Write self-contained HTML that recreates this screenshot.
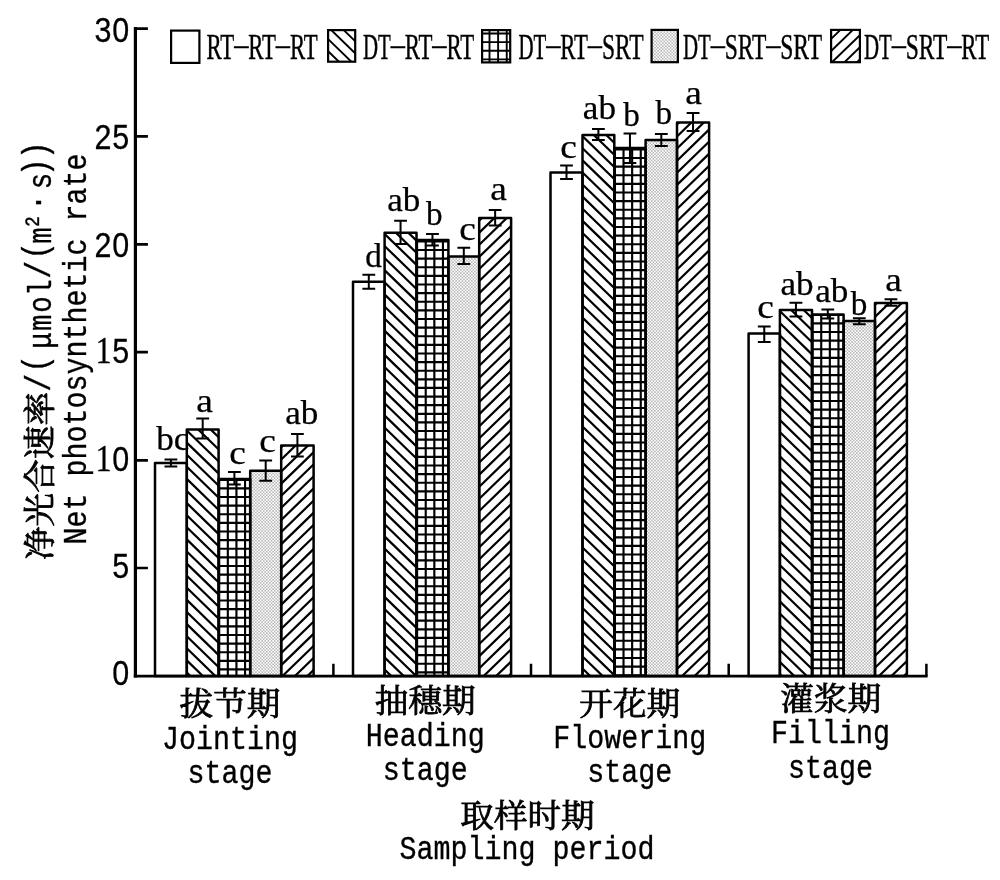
<!DOCTYPE html>
<html lang="zh"><head><meta charset="utf-8"><title>Net photosynthetic rate</title>
<style>html,body{margin:0;padding:0;background:#fff;}svg{display:block;}.m{font-family:'Liberation Mono', 'Noto Serif CJK SC', monospace;}.s{font-family:'Liberation Sans', 'Noto Sans CJK SC', sans-serif;}.c{font-family:'Liberation Serif', 'Noto Serif CJK SC', serif;}.k{stroke:#000;fill:none;}</style>
</head><body>
<svg width="1000" height="880" viewBox="0 0 1000 880">
<defs>
<pattern id="dt" patternUnits="userSpaceOnUse" width="3.13" height="3.13"><rect width="3.13" height="3.13" fill="#fff"/><circle cx="0.782" cy="0.782" r="0.72" fill="#9a9a9a"/><circle cx="2.348" cy="2.348" r="0.72" fill="#9a9a9a"/></pattern>
<clipPath id="c1"><rect x="186.8" y="429.4" width="31.8" height="246.7"/></clipPath>
<clipPath id="c2"><rect x="218.6" y="479" width="31.6" height="197.1"/></clipPath>
<clipPath id="c3"><rect x="281.2" y="445.6" width="32.4" height="230.5"/></clipPath>
<clipPath id="c4"><rect x="384.6" y="232.8" width="31.9" height="443.3"/></clipPath>
<clipPath id="c5"><rect x="416.5" y="240" width="31.9" height="436.1"/></clipPath>
<clipPath id="c6"><rect x="479.2" y="218.1" width="31.9" height="458"/></clipPath>
<clipPath id="c7"><rect x="582.5" y="135" width="31.8" height="541.1"/></clipPath>
<clipPath id="c8"><rect x="614.3" y="148" width="31.3" height="528.1"/></clipPath>
<clipPath id="c9"><rect x="677" y="122.6" width="32.1" height="553.5"/></clipPath>
<clipPath id="c10"><rect x="779.9" y="310" width="32.1" height="366.1"/></clipPath>
<clipPath id="c11"><rect x="812" y="314.4" width="31.6" height="361.7"/></clipPath>
<clipPath id="c12"><rect x="875" y="303" width="31.9" height="373.1"/></clipPath>
<clipPath id="c13"><rect x="328.1" y="30.1" width="27.1" height="31.6"/></clipPath>
<clipPath id="c14"><rect x="482.1" y="30.1" width="28.1" height="32.3"/></clipPath>
<clipPath id="c15"><rect x="831.1" y="29.9" width="28.8" height="32.3"/></clipPath>
</defs>
<rect width="1000" height="880" fill="#fff"/>
<g id="group1">
<path class="k" clip-path="url(#c1)" stroke-width="2.2" d="M183.8,379.22L221.6,415.89M183.8,391.32L221.6,427.99M183.8,403.42L221.6,440.09M183.8,415.52L221.6,452.19M183.8,427.62L221.6,464.29M183.8,439.72L221.6,476.39M183.8,451.82L221.6,488.49M183.8,463.92L221.6,500.59M183.8,476.02L221.6,512.69M183.8,488.12L221.6,524.79M183.8,500.22L221.6,536.89M183.8,512.32L221.6,548.99M183.8,524.42L221.6,561.09M183.8,536.52L221.6,573.19M183.8,548.62L221.6,585.29M183.8,560.72L221.6,597.39M183.8,572.82L221.6,609.49M183.8,584.92L221.6,621.59M183.8,597.02L221.6,633.69M183.8,609.12L221.6,645.79M183.8,621.22L221.6,657.89M183.8,633.32L221.6,669.99M183.8,645.42L221.6,682.09M183.8,657.52L221.6,694.19M183.8,669.62L221.6,706.29M183.8,681.72L221.6,718.39"/>
<path class="k" clip-path="url(#c2)" stroke-width="2.15" d="M210.58,477V678.1M219.2,477V678.1M227.82,477V678.1M236.44,477V678.1M245.06,477V678.1M253.68,477V678.1M216.6,471.18H252.2M216.6,479.8H252.2M216.6,488.42H252.2M216.6,497.04H252.2M216.6,505.66H252.2M216.6,514.28H252.2M216.6,522.9H252.2M216.6,531.52H252.2M216.6,540.14H252.2M216.6,548.76H252.2M216.6,557.38H252.2M216.6,566H252.2M216.6,574.62H252.2M216.6,583.24H252.2M216.6,591.86H252.2M216.6,600.48H252.2M216.6,609.1H252.2M216.6,617.72H252.2M216.6,626.34H252.2M216.6,634.96H252.2M216.6,643.58H252.2M216.6,652.2H252.2M216.6,660.82H252.2M216.6,669.44H252.2M216.6,678.06H252.2"/>
<rect x="250.2" y="470.7" width="31" height="205.4" fill="url(#dt)"/>
<path class="k" clip-path="url(#c3)" stroke-width="2.2" d="M278.2,438.18L316.6,400.93M278.2,450.28L316.6,413.03M278.2,462.38L316.6,425.13M278.2,474.48L316.6,437.23M278.2,486.58L316.6,449.33M278.2,498.68L316.6,461.43M278.2,510.78L316.6,473.53M278.2,522.88L316.6,485.63M278.2,534.98L316.6,497.73M278.2,547.08L316.6,509.83M278.2,559.18L316.6,521.93M278.2,571.28L316.6,534.03M278.2,583.38L316.6,546.13M278.2,595.48L316.6,558.23M278.2,607.58L316.6,570.33M278.2,619.68L316.6,582.43M278.2,631.78L316.6,594.53M278.2,643.88L316.6,606.63M278.2,655.98L316.6,618.73M278.2,668.08L316.6,630.83M278.2,680.18L316.6,642.93M278.2,692.28L316.6,655.03M278.2,704.38L316.6,667.13M278.2,716.48L316.6,679.23"/>
<rect class="k" x="155" y="463" width="31.8" height="213.1" stroke-width="2.5" stroke-linejoin="round"/>
<rect class="k" x="186.8" y="429.4" width="31.8" height="246.7" stroke-width="2.5" stroke-linejoin="round"/>
<rect class="k" x="218.6" y="479" width="31.6" height="197.1" stroke-width="2.5" stroke-linejoin="round"/>
<rect class="k" x="250.2" y="470.7" width="31" height="205.4" stroke-width="2.5" stroke-linejoin="round"/>
<rect class="k" x="281.2" y="445.6" width="32.4" height="230.5" stroke-width="2.5" stroke-linejoin="round"/>
<path class="k" stroke-width="2" d="M164.5,459.6H177.3M164.5,466.4H177.3M170.9,459.6V466.4M196.3,418.4H209.1M196.3,438.6H209.1M202.7,418.4V438.6M228,472H240.8M228,484.4H240.8M234.4,472V484.4M259.3,460.6H272.1M259.3,480.8H272.1M265.7,460.6V480.8M291,434H303.8M291,456.6H303.8M297.4,434V456.6"/>
</g>
<g id="group2">
<path class="k" clip-path="url(#c4)" stroke-width="2.2" d="M381.6,182.62L419.5,219.38M381.6,194.72L419.5,231.48M381.6,206.82L419.5,243.58M381.6,218.92L419.5,255.68M381.6,231.02L419.5,267.78M381.6,243.12L419.5,279.88M381.6,255.22L419.5,291.98M381.6,267.32L419.5,304.08M381.6,279.42L419.5,316.18M381.6,291.52L419.5,328.28M381.6,303.62L419.5,340.38M381.6,315.72L419.5,352.48M381.6,327.82L419.5,364.58M381.6,339.92L419.5,376.68M381.6,352.02L419.5,388.78M381.6,364.12L419.5,400.88M381.6,376.22L419.5,412.98M381.6,388.32L419.5,425.08M381.6,400.42L419.5,437.18M381.6,412.52L419.5,449.28M381.6,424.62L419.5,461.38M381.6,436.72L419.5,473.48M381.6,448.82L419.5,485.58M381.6,460.92L419.5,497.68M381.6,473.02L419.5,509.78M381.6,485.12L419.5,521.88M381.6,497.22L419.5,533.98M381.6,509.32L419.5,546.08M381.6,521.42L419.5,558.18M381.6,533.52L419.5,570.28M381.6,545.62L419.5,582.38M381.6,557.72L419.5,594.48M381.6,569.82L419.5,606.58M381.6,581.92L419.5,618.68M381.6,594.02L419.5,630.78M381.6,606.12L419.5,642.88M381.6,618.22L419.5,654.98M381.6,630.32L419.5,667.08M381.6,642.42L419.5,679.18M381.6,654.52L419.5,691.28M381.6,666.62L419.5,703.38M381.6,678.72L419.5,715.48M381.6,690.82L419.5,727.58"/>
<path class="k" clip-path="url(#c5)" stroke-width="2.15" d="M408.48,238V678.1M417.1,238V678.1M425.72,238V678.1M434.34,238V678.1M442.96,238V678.1M451.58,238V678.1M414.5,232.78H450.4M414.5,241.4H450.4M414.5,250.02H450.4M414.5,258.64H450.4M414.5,267.26H450.4M414.5,275.88H450.4M414.5,284.5H450.4M414.5,293.12H450.4M414.5,301.74H450.4M414.5,310.36H450.4M414.5,318.98H450.4M414.5,327.6H450.4M414.5,336.22H450.4M414.5,344.84H450.4M414.5,353.46H450.4M414.5,362.08H450.4M414.5,370.7H450.4M414.5,379.32H450.4M414.5,387.94H450.4M414.5,396.56H450.4M414.5,405.18H450.4M414.5,413.8H450.4M414.5,422.42H450.4M414.5,431.04H450.4M414.5,439.66H450.4M414.5,448.28H450.4M414.5,456.9H450.4M414.5,465.52H450.4M414.5,474.14H450.4M414.5,482.76H450.4M414.5,491.38H450.4M414.5,500H450.4M414.5,508.62H450.4M414.5,517.24H450.4M414.5,525.86H450.4M414.5,534.48H450.4M414.5,543.1H450.4M414.5,551.72H450.4M414.5,560.34H450.4M414.5,568.96H450.4M414.5,577.58H450.4M414.5,586.2H450.4M414.5,594.82H450.4M414.5,603.44H450.4M414.5,612.06H450.4M414.5,620.68H450.4M414.5,629.3H450.4M414.5,637.92H450.4M414.5,646.54H450.4M414.5,655.16H450.4M414.5,663.78H450.4M414.5,672.4H450.4M414.5,681.02H450.4"/>
<rect x="448.4" y="256.5" width="30.8" height="419.6" fill="url(#dt)"/>
<path class="k" clip-path="url(#c6)" stroke-width="2.2" d="M476.2,211.38L514.1,174.62M476.2,223.48L514.1,186.72M476.2,235.58L514.1,198.82M476.2,247.68L514.1,210.92M476.2,259.78L514.1,223.02M476.2,271.88L514.1,235.12M476.2,283.98L514.1,247.22M476.2,296.08L514.1,259.32M476.2,308.18L514.1,271.42M476.2,320.28L514.1,283.52M476.2,332.38L514.1,295.62M476.2,344.48L514.1,307.72M476.2,356.58L514.1,319.82M476.2,368.68L514.1,331.92M476.2,380.78L514.1,344.02M476.2,392.88L514.1,356.12M476.2,404.98L514.1,368.22M476.2,417.08L514.1,380.32M476.2,429.18L514.1,392.42M476.2,441.28L514.1,404.52M476.2,453.38L514.1,416.62M476.2,465.48L514.1,428.72M476.2,477.58L514.1,440.82M476.2,489.68L514.1,452.92M476.2,501.78L514.1,465.02M476.2,513.88L514.1,477.12M476.2,525.98L514.1,489.22M476.2,538.08L514.1,501.32M476.2,550.18L514.1,513.42M476.2,562.28L514.1,525.52M476.2,574.38L514.1,537.62M476.2,586.48L514.1,549.72M476.2,598.58L514.1,561.82M476.2,610.68L514.1,573.92M476.2,622.78L514.1,586.02M476.2,634.88L514.1,598.12M476.2,646.98L514.1,610.22M476.2,659.08L514.1,622.32M476.2,671.18L514.1,634.42M476.2,683.28L514.1,646.52M476.2,695.38L514.1,658.62M476.2,707.48L514.1,670.72M476.2,719.58L514.1,682.82"/>
<rect class="k" x="353" y="281.8" width="31.6" height="394.3" stroke-width="2.5" stroke-linejoin="round"/>
<rect class="k" x="384.6" y="232.8" width="31.9" height="443.3" stroke-width="2.5" stroke-linejoin="round"/>
<rect class="k" x="416.5" y="240" width="31.9" height="436.1" stroke-width="2.5" stroke-linejoin="round"/>
<rect class="k" x="448.4" y="256.5" width="30.8" height="419.6" stroke-width="2.5" stroke-linejoin="round"/>
<rect class="k" x="479.2" y="218.1" width="31.9" height="458" stroke-width="2.5" stroke-linejoin="round"/>
<path class="k" stroke-width="2" d="M362.4,274.7H375.2M362.4,288.8H375.2M368.8,274.7V288.8M394.15,220.8H406.95M394.15,244H406.95M400.55,220.8V244M426.05,234H438.85M426.05,245.6H438.85M432.45,234V245.6M457.4,247.8H470.2M457.4,264H470.2M463.8,247.8V264M488.75,210.1H501.55M488.75,225.6H501.55M495.15,210.1V225.6"/>
</g>
<g id="group3">
<path class="k" clip-path="url(#c7)" stroke-width="2.2" d="M579.5,84.82L617.3,121.49M579.5,96.92L617.3,133.59M579.5,109.02L617.3,145.69M579.5,121.12L617.3,157.79M579.5,133.22L617.3,169.89M579.5,145.32L617.3,181.99M579.5,157.42L617.3,194.09M579.5,169.52L617.3,206.19M579.5,181.62L617.3,218.29M579.5,193.72L617.3,230.39M579.5,205.82L617.3,242.49M579.5,217.92L617.3,254.59M579.5,230.02L617.3,266.69M579.5,242.12L617.3,278.79M579.5,254.22L617.3,290.89M579.5,266.32L617.3,302.99M579.5,278.42L617.3,315.09M579.5,290.52L617.3,327.19M579.5,302.62L617.3,339.29M579.5,314.72L617.3,351.39M579.5,326.82L617.3,363.49M579.5,338.92L617.3,375.59M579.5,351.02L617.3,387.69M579.5,363.12L617.3,399.79M579.5,375.22L617.3,411.89M579.5,387.32L617.3,423.99M579.5,399.42L617.3,436.09M579.5,411.52L617.3,448.19M579.5,423.62L617.3,460.29M579.5,435.72L617.3,472.39M579.5,447.82L617.3,484.49M579.5,459.92L617.3,496.59M579.5,472.02L617.3,508.69M579.5,484.12L617.3,520.79M579.5,496.22L617.3,532.89M579.5,508.32L617.3,544.99M579.5,520.42L617.3,557.09M579.5,532.52L617.3,569.19M579.5,544.62L617.3,581.29M579.5,556.72L617.3,593.39M579.5,568.82L617.3,605.49M579.5,580.92L617.3,617.59M579.5,593.02L617.3,629.69M579.5,605.12L617.3,641.79M579.5,617.22L617.3,653.89M579.5,629.32L617.3,665.99M579.5,641.42L617.3,678.09M579.5,653.52L617.3,690.19M579.5,665.62L617.3,702.29M579.5,677.72L617.3,714.39M579.5,689.82L617.3,726.49"/>
<path class="k" clip-path="url(#c8)" stroke-width="2.15" d="M606.28,146V678.1M614.9,146V678.1M623.52,146V678.1M632.14,146V678.1M640.76,146V678.1M649.38,146V678.1M612.3,140.78H647.6M612.3,149.4H647.6M612.3,158.02H647.6M612.3,166.64H647.6M612.3,175.26H647.6M612.3,183.88H647.6M612.3,192.5H647.6M612.3,201.12H647.6M612.3,209.74H647.6M612.3,218.36H647.6M612.3,226.98H647.6M612.3,235.6H647.6M612.3,244.22H647.6M612.3,252.84H647.6M612.3,261.46H647.6M612.3,270.08H647.6M612.3,278.7H647.6M612.3,287.32H647.6M612.3,295.94H647.6M612.3,304.56H647.6M612.3,313.18H647.6M612.3,321.8H647.6M612.3,330.42H647.6M612.3,339.04H647.6M612.3,347.66H647.6M612.3,356.28H647.6M612.3,364.9H647.6M612.3,373.52H647.6M612.3,382.14H647.6M612.3,390.76H647.6M612.3,399.38H647.6M612.3,408H647.6M612.3,416.62H647.6M612.3,425.24H647.6M612.3,433.86H647.6M612.3,442.48H647.6M612.3,451.1H647.6M612.3,459.72H647.6M612.3,468.34H647.6M612.3,476.96H647.6M612.3,485.58H647.6M612.3,494.2H647.6M612.3,502.82H647.6M612.3,511.44H647.6M612.3,520.06H647.6M612.3,528.68H647.6M612.3,537.3H647.6M612.3,545.92H647.6M612.3,554.54H647.6M612.3,563.16H647.6M612.3,571.78H647.6M612.3,580.4H647.6M612.3,589.02H647.6M612.3,597.64H647.6M612.3,606.26H647.6M612.3,614.88H647.6M612.3,623.5H647.6M612.3,632.12H647.6M612.3,640.74H647.6M612.3,649.36H647.6M612.3,657.98H647.6M612.3,666.6H647.6M612.3,675.22H647.6M612.3,683.84H647.6"/>
<rect x="645.6" y="140" width="31.4" height="536.1" fill="url(#dt)"/>
<path class="k" clip-path="url(#c9)" stroke-width="2.2" d="M674,115.18L712.1,78.22M674,127.28L712.1,90.32M674,139.38L712.1,102.42M674,151.48L712.1,114.52M674,163.58L712.1,126.62M674,175.68L712.1,138.72M674,187.78L712.1,150.82M674,199.88L712.1,162.92M674,211.98L712.1,175.02M674,224.08L712.1,187.12M674,236.18L712.1,199.22M674,248.28L712.1,211.32M674,260.38L712.1,223.42M674,272.48L712.1,235.52M674,284.58L712.1,247.62M674,296.68L712.1,259.72M674,308.78L712.1,271.82M674,320.88L712.1,283.92M674,332.98L712.1,296.02M674,345.08L712.1,308.12M674,357.18L712.1,320.22M674,369.28L712.1,332.32M674,381.38L712.1,344.42M674,393.48L712.1,356.52M674,405.58L712.1,368.62M674,417.68L712.1,380.72M674,429.78L712.1,392.82M674,441.88L712.1,404.92M674,453.98L712.1,417.02M674,466.08L712.1,429.12M674,478.18L712.1,441.22M674,490.28L712.1,453.32M674,502.38L712.1,465.42M674,514.48L712.1,477.52M674,526.58L712.1,489.62M674,538.68L712.1,501.72M674,550.78L712.1,513.82M674,562.88L712.1,525.92M674,574.98L712.1,538.02M674,587.08L712.1,550.12M674,599.18L712.1,562.22M674,611.28L712.1,574.32M674,623.38L712.1,586.42M674,635.48L712.1,598.52M674,647.58L712.1,610.62M674,659.68L712.1,622.72M674,671.78L712.1,634.82M674,683.88L712.1,646.92M674,695.98L712.1,659.02M674,708.08L712.1,671.12M674,720.18L712.1,683.22"/>
<rect class="k" x="550.5" y="172.6" width="32" height="503.5" stroke-width="2.5" stroke-linejoin="round"/>
<rect class="k" x="582.5" y="135" width="31.8" height="541.1" stroke-width="2.5" stroke-linejoin="round"/>
<rect class="k" x="614.3" y="148" width="31.3" height="528.1" stroke-width="2.5" stroke-linejoin="round"/>
<rect class="k" x="645.6" y="140" width="31.4" height="536.1" stroke-width="2.5" stroke-linejoin="round"/>
<rect class="k" x="677" y="122.6" width="32.1" height="553.5" stroke-width="2.5" stroke-linejoin="round"/>
<path class="k" stroke-width="2" d="M560.1,165.6H572.9M560.1,179H572.9M566.5,165.6V179M592,129H604.8M592,140H604.8M598.4,129V140M623.55,133.6H636.35M623.55,163H636.35M629.95,133.6V163M654.9,134H667.7M654.9,146H667.7M661.3,134V146M686.65,113H699.45M686.65,131H699.45M693.05,113V131"/>
</g>
<g id="group4">
<path class="k" clip-path="url(#c10)" stroke-width="2.2" d="M776.9,259.82L815,296.78M776.9,271.92L815,308.88M776.9,284.02L815,320.98M776.9,296.12L815,333.08M776.9,308.22L815,345.18M776.9,320.32L815,357.28M776.9,332.42L815,369.38M776.9,344.52L815,381.48M776.9,356.62L815,393.58M776.9,368.72L815,405.68M776.9,380.82L815,417.78M776.9,392.92L815,429.88M776.9,405.02L815,441.98M776.9,417.12L815,454.08M776.9,429.22L815,466.18M776.9,441.32L815,478.28M776.9,453.42L815,490.38M776.9,465.52L815,502.48M776.9,477.62L815,514.58M776.9,489.72L815,526.68M776.9,501.82L815,538.78M776.9,513.92L815,550.88M776.9,526.02L815,562.98M776.9,538.12L815,575.08M776.9,550.22L815,587.18M776.9,562.32L815,599.28M776.9,574.42L815,611.38M776.9,586.52L815,623.48M776.9,598.62L815,635.58M776.9,610.72L815,647.68M776.9,622.82L815,659.78M776.9,634.92L815,671.88M776.9,647.02L815,683.98M776.9,659.12L815,696.08M776.9,671.22L815,708.18M776.9,683.32L815,720.28"/>
<path class="k" clip-path="url(#c11)" stroke-width="2.15" d="M803.98,312.4V678.1M812.6,312.4V678.1M821.22,312.4V678.1M829.84,312.4V678.1M838.46,312.4V678.1M847.08,312.4V678.1M810,306.18H845.6M810,314.8H845.6M810,323.42H845.6M810,332.04H845.6M810,340.66H845.6M810,349.28H845.6M810,357.9H845.6M810,366.52H845.6M810,375.14H845.6M810,383.76H845.6M810,392.38H845.6M810,401H845.6M810,409.62H845.6M810,418.24H845.6M810,426.86H845.6M810,435.48H845.6M810,444.1H845.6M810,452.72H845.6M810,461.34H845.6M810,469.96H845.6M810,478.58H845.6M810,487.2H845.6M810,495.82H845.6M810,504.44H845.6M810,513.06H845.6M810,521.68H845.6M810,530.3H845.6M810,538.92H845.6M810,547.54H845.6M810,556.16H845.6M810,564.78H845.6M810,573.4H845.6M810,582.02H845.6M810,590.64H845.6M810,599.26H845.6M810,607.88H845.6M810,616.5H845.6M810,625.12H845.6M810,633.74H845.6M810,642.36H845.6M810,650.98H845.6M810,659.6H845.6M810,668.22H845.6M810,676.84H845.6"/>
<rect x="843.6" y="321" width="31.4" height="355.1" fill="url(#dt)"/>
<path class="k" clip-path="url(#c12)" stroke-width="2.2" d="M872,295.58L909.9,258.82M872,307.68L909.9,270.92M872,319.78L909.9,283.02M872,331.88L909.9,295.12M872,343.98L909.9,307.22M872,356.08L909.9,319.32M872,368.18L909.9,331.42M872,380.28L909.9,343.52M872,392.38L909.9,355.62M872,404.48L909.9,367.72M872,416.58L909.9,379.82M872,428.68L909.9,391.92M872,440.78L909.9,404.02M872,452.88L909.9,416.12M872,464.98L909.9,428.22M872,477.08L909.9,440.32M872,489.18L909.9,452.42M872,501.28L909.9,464.52M872,513.38L909.9,476.62M872,525.48L909.9,488.72M872,537.58L909.9,500.82M872,549.68L909.9,512.92M872,561.78L909.9,525.02M872,573.88L909.9,537.12M872,585.98L909.9,549.22M872,598.08L909.9,561.32M872,610.18L909.9,573.42M872,622.28L909.9,585.52M872,634.38L909.9,597.62M872,646.48L909.9,609.72M872,658.58L909.9,621.82M872,670.68L909.9,633.92M872,682.78L909.9,646.02M872,694.88L909.9,658.12M872,706.98L909.9,670.22M872,719.08L909.9,682.32"/>
<rect class="k" x="748.6" y="333.6" width="31.3" height="342.5" stroke-width="2.5" stroke-linejoin="round"/>
<rect class="k" x="779.9" y="310" width="32.1" height="366.1" stroke-width="2.5" stroke-linejoin="round"/>
<rect class="k" x="812" y="314.4" width="31.6" height="361.7" stroke-width="2.5" stroke-linejoin="round"/>
<rect class="k" x="843.6" y="321" width="31.4" height="355.1" stroke-width="2.5" stroke-linejoin="round"/>
<rect class="k" x="875" y="303" width="31.9" height="373.1" stroke-width="2.5" stroke-linejoin="round"/>
<path class="k" stroke-width="2" d="M757.85,326.6H770.65M757.85,342H770.65M764.25,326.6V342M789.55,302.8H802.35M789.55,316.6H802.35M795.95,302.8V316.6M821.4,309.5H834.2M821.4,318.4H834.2M827.8,309.5V318.4M852.9,318.2H865.7M852.9,324.2H865.7M859.3,318.2V324.2M884.55,299.2H897.35M884.55,305.7H897.35M890.95,299.2V305.7"/>
</g>
<g class="k" id="axes">
<path d="M135.4,27.1V677.4" stroke-width="3.2"/>
<path d="M133.8,676.1H927.65" stroke-width="2.8"/>
<path stroke-width="2.7" d="M135.4,28.6H147.9M135.4,136.4H147.9M135.4,244.4H147.9M135.4,352.2H147.9M135.4,460.4H147.9M135.4,568H147.9"/>
<path stroke-width="2.5" d="M333.4,676.1V663.8M531,676.1V663.8M728.7,676.1V663.8M926.4,676.1V663.8"/>
</g>
<g id="yticks">
<text class="s" y="42.5" font-size="35" stroke="#000" stroke-width="0.3" text-anchor="middle" transform="scale(0.87,1)"><tspan x="118.51">3</tspan><tspan x="138.62">0</tspan></text>
<text class="s" y="149.5" font-size="35" stroke="#000" stroke-width="0.3" text-anchor="middle" transform="scale(0.87,1)"><tspan x="118.51">2</tspan><tspan x="138.62">5</tspan></text>
<text class="s" y="256.7" font-size="35" stroke="#000" stroke-width="0.3" text-anchor="middle" transform="scale(0.87,1)"><tspan x="118.51">2</tspan><tspan x="138.62">0</tspan></text>
<text class="s" y="363.5" font-size="35" stroke="#000" stroke-width="0.3" text-anchor="middle" transform="scale(0.87,1)"><tspan class="c" x="118.97" font-size="37">1</tspan><tspan x="138.62">5</tspan></text>
<text class="s" y="470.7" font-size="35" stroke="#000" stroke-width="0.3" text-anchor="middle" transform="scale(0.87,1)"><tspan class="c" x="118.97" font-size="37">1</tspan><tspan x="138.62">0</tspan></text>
<text class="s" y="577.7" font-size="35" stroke="#000" stroke-width="0.3" text-anchor="middle" transform="scale(0.87,1)"><tspan x="138.62">5</tspan></text>
<text class="s" y="684.7" font-size="35" stroke="#000" stroke-width="0.3" text-anchor="middle" transform="scale(0.87,1)"><tspan x="138.62">0</tspan></text>
</g>
<g id="letters" class="c" font-size="34" stroke="#000" stroke-width="0.25">
<text x="156.2" y="450" textLength="33.2" lengthAdjust="spacingAndGlyphs">bc</text>
<text x="196.2" y="412.3" textLength="16.6" lengthAdjust="spacingAndGlyphs">a</text>
<text x="229.2" y="464" textLength="16.6" lengthAdjust="spacingAndGlyphs">c</text>
<text x="259.2" y="452.4" textLength="16.6" lengthAdjust="spacingAndGlyphs">c</text>
<text x="285.2" y="424" textLength="33.2" lengthAdjust="spacingAndGlyphs">ab</text>
<text x="365.2" y="267.4" textLength="16.6" lengthAdjust="spacingAndGlyphs">d</text>
<text x="387.2" y="211.4" textLength="33.2" lengthAdjust="spacingAndGlyphs">ab</text>
<text x="426" y="225.4" textLength="16.6" lengthAdjust="spacingAndGlyphs">b</text>
<text x="459.2" y="239.6" textLength="16.6" lengthAdjust="spacingAndGlyphs">c</text>
<text x="490.2" y="200" textLength="16.6" lengthAdjust="spacingAndGlyphs">a</text>
<text x="560.2" y="158" textLength="16.6" lengthAdjust="spacingAndGlyphs">c</text>
<text x="582.8" y="119" textLength="33.2" lengthAdjust="spacingAndGlyphs">ab</text>
<text x="623.2" y="125.6" textLength="16.6" lengthAdjust="spacingAndGlyphs">b</text>
<text x="655.6" y="123.6" textLength="16.6" lengthAdjust="spacingAndGlyphs">b</text>
<text x="685.2" y="104.4" textLength="16.6" lengthAdjust="spacingAndGlyphs">a</text>
<text x="757.2" y="318.4" textLength="16.6" lengthAdjust="spacingAndGlyphs">c</text>
<text x="780.5" y="295" textLength="33.2" lengthAdjust="spacingAndGlyphs">ab</text>
<text x="815.2" y="302" textLength="33.2" lengthAdjust="spacingAndGlyphs">ab</text>
<text x="850.8" y="315" textLength="16.6" lengthAdjust="spacingAndGlyphs">b</text>
<text x="885.2" y="291.4" textLength="16.6" lengthAdjust="spacingAndGlyphs">a</text>
</g>
<g id="legend">
<rect x="171.1" y="30.6" width="28.3" height="32.3" fill="none" stroke="#000" stroke-width="2.2"/>
<text class="c" font-size="36" stroke="#000" stroke-width="0.45"><tspan x="206.5" y="59" textLength="27.8" lengthAdjust="spacingAndGlyphs">RT</tspan><tspan x="232.4" y="51.6" font-size="22" textLength="17.7" lengthAdjust="spacingAndGlyphs">-</tspan><tspan x="248.2" y="59" textLength="27.8" lengthAdjust="spacingAndGlyphs">RT</tspan><tspan x="274.1" y="51.6" font-size="22" textLength="17.7" lengthAdjust="spacingAndGlyphs">-</tspan><tspan x="289.9" y="59" textLength="27.8" lengthAdjust="spacingAndGlyphs">RT</tspan></text>
<path class="k" clip-path="url(#c13)" stroke-width="1.9" d="M325.1,-12.21L358.2,19.9M325.1,-0.11L358.2,32M325.1,11.99L358.2,44.1M325.1,24.09L358.2,56.2M325.1,36.19L358.2,68.3M325.1,48.29L358.2,80.4M325.1,60.39L358.2,92.5M325.1,72.49L358.2,104.6"/>
<rect x="328.1" y="30.1" width="27.1" height="31.6" fill="none" stroke="#000" stroke-width="2.2"/>
<text class="c" font-size="36" stroke="#000" stroke-width="0.45"><tspan x="363" y="59" textLength="27.8" lengthAdjust="spacingAndGlyphs">DT</tspan><tspan x="388.9" y="51.6" font-size="22" textLength="17.7" lengthAdjust="spacingAndGlyphs">-</tspan><tspan x="404.7" y="59" textLength="27.8" lengthAdjust="spacingAndGlyphs">RT</tspan><tspan x="430.6" y="51.6" font-size="22" textLength="17.7" lengthAdjust="spacingAndGlyphs">-</tspan><tspan x="446.4" y="59" textLength="27.8" lengthAdjust="spacingAndGlyphs">RT</tspan></text>
<path class="k" clip-path="url(#c14)" stroke-width="1.9" d="M480.88,28.1V64.4M489.5,28.1V64.4M498.12,28.1V64.4M506.74,28.1V64.4M515.36,28.1V64.4M480.1,24.88H512.2M480.1,33.5H512.2M480.1,42.12H512.2M480.1,50.74H512.2M480.1,59.36H512.2M480.1,67.98H512.2"/>
<rect x="482.1" y="30.1" width="28.1" height="32.3" fill="none" stroke="#000" stroke-width="2.2"/>
<text class="c" font-size="36" stroke="#000" stroke-width="0.45"><tspan x="518.5" y="59" textLength="27.8" lengthAdjust="spacingAndGlyphs">DT</tspan><tspan x="544.4" y="51.6" font-size="22" textLength="17.7" lengthAdjust="spacingAndGlyphs">-</tspan><tspan x="560.2" y="59" textLength="27.8" lengthAdjust="spacingAndGlyphs">RT</tspan><tspan x="586.1" y="51.6" font-size="22" textLength="17.7" lengthAdjust="spacingAndGlyphs">-</tspan><tspan x="601.9" y="59" textLength="41.7" lengthAdjust="spacingAndGlyphs">SRT</tspan></text>
<rect x="651.6" y="29.9" width="26.3" height="32.3" fill="url(#dt)" stroke="#000" stroke-width="2.2"/>
<text class="c" font-size="36" stroke="#000" stroke-width="0.45"><tspan x="683" y="59" textLength="27.8" lengthAdjust="spacingAndGlyphs">DT</tspan><tspan x="708.9" y="51.6" font-size="22" textLength="17.7" lengthAdjust="spacingAndGlyphs">-</tspan><tspan x="724.7" y="59" textLength="41.7" lengthAdjust="spacingAndGlyphs">SRT</tspan><tspan x="764.5" y="51.6" font-size="22" textLength="17.7" lengthAdjust="spacingAndGlyphs">-</tspan><tspan x="780.3" y="59" textLength="41.7" lengthAdjust="spacingAndGlyphs">SRT</tspan></text>
<path class="k" clip-path="url(#c15)" stroke-width="1.9" d="M828.1,17.61L862.9,-16.15M828.1,29.71L862.9,-4.05M828.1,41.81L862.9,8.05M828.1,53.91L862.9,20.15M828.1,66.01L862.9,32.25M828.1,78.11L862.9,44.35M828.1,90.21L862.9,56.45M828.1,102.31L862.9,68.55"/>
<rect x="831.1" y="29.9" width="28.8" height="32.3" fill="none" stroke="#000" stroke-width="2.2"/>
<text class="c" font-size="36" stroke="#000" stroke-width="0.45"><tspan x="864" y="59" textLength="27.8" lengthAdjust="spacingAndGlyphs">DT</tspan><tspan x="889.9" y="51.6" font-size="22" textLength="17.7" lengthAdjust="spacingAndGlyphs">-</tspan><tspan x="905.7" y="59" textLength="41.7" lengthAdjust="spacingAndGlyphs">SRT</tspan><tspan x="945.5" y="51.6" font-size="22" textLength="17.7" lengthAdjust="spacingAndGlyphs">-</tspan><tspan x="961.3" y="59" textLength="27.8" lengthAdjust="spacingAndGlyphs">RT</tspan></text>
</g>
<g id="xlabels">
<text class="c" x="179.6" y="715.3" font-size="32.0" stroke="#000" stroke-width="0.8" textLength="100.8" lengthAdjust="spacingAndGlyphs">拔节期</text>
<text class="m" x="162" y="749" font-size="32.3" stroke="#000" stroke-width="0.35" textLength="136" lengthAdjust="spacingAndGlyphs">Jointing</text>
<text class="m" x="187.5" y="783" font-size="32.3" stroke="#000" stroke-width="0.35" textLength="85" lengthAdjust="spacingAndGlyphs">stage</text>
<text class="c" x="374.8" y="712" font-size="32.0" stroke="#000" stroke-width="0.8" textLength="100.8" lengthAdjust="spacingAndGlyphs">抽穗期</text>
<text class="m" x="365.7" y="746" font-size="32.3" stroke="#000" stroke-width="0.35" textLength="119" lengthAdjust="spacingAndGlyphs">Heading</text>
<text class="m" x="382.7" y="779.6" font-size="32.3" stroke="#000" stroke-width="0.35" textLength="85" lengthAdjust="spacingAndGlyphs">stage</text>
<text class="c" x="579.3" y="714.6" font-size="32.0" stroke="#000" stroke-width="0.8" textLength="100.8" lengthAdjust="spacingAndGlyphs">开花期</text>
<text class="m" x="553.2" y="748" font-size="32.3" stroke="#000" stroke-width="0.35" textLength="153" lengthAdjust="spacingAndGlyphs">Flowering</text>
<text class="m" x="587.2" y="782" font-size="32.3" stroke="#000" stroke-width="0.35" textLength="85" lengthAdjust="spacingAndGlyphs">stage</text>
<text class="c" x="780.2" y="710" font-size="32.0" stroke="#000" stroke-width="0.8" textLength="100.8" lengthAdjust="spacingAndGlyphs">灌浆期</text>
<text class="m" x="771.1" y="742.6" font-size="32.3" stroke="#000" stroke-width="0.35" textLength="119" lengthAdjust="spacingAndGlyphs">Filling</text>
<text class="m" x="788.1" y="778" font-size="32.3" stroke="#000" stroke-width="0.35" textLength="85" lengthAdjust="spacingAndGlyphs">stage</text>
</g>
<g id="xtitle">
<text class="c" x="460.3" y="827" font-size="32.0" stroke="#000" stroke-width="0.8" textLength="134.4" lengthAdjust="spacingAndGlyphs">取样时期</text>
<text class="m" x="399.5" y="858.6" font-size="32.3" stroke="#000" stroke-width="0.35" textLength="255" lengthAdjust="spacingAndGlyphs">Sampling period</text>
</g>
<g id="ytitle">
<text class="m" transform="translate(85.6,544.5) rotate(-90)" font-size="32.3" stroke="#000" stroke-width="0.35" textLength="391" lengthAdjust="spacingAndGlyphs">Net photosynthetic rate</text>
<text class="c" transform="translate(51.2,560) rotate(-90)" font-size="32.0" stroke="#000" stroke-width="0.8" textLength="168" lengthAdjust="spacingAndGlyphs">净光合速率</text>
<text class="m" transform="translate(51.2,560) rotate(-90) scale(0.85,1)" stroke="#000" stroke-width="0.35" text-anchor="middle"><tspan x="208.47" y="-1.5" font-size="35">/</tspan><tspan x="230.82" y="-4" font-size="34.5">(</tspan><tspan x="258.24" y="0" font-size="32.3">μ</tspan><tspan x="279.06" y="0" font-size="32.3">m</tspan><tspan x="300.47" y="0" font-size="32.3">o</tspan><tspan x="320.47" y="0" font-size="32.3">l</tspan><tspan x="341.29" y="-1.5" font-size="35">/</tspan><tspan x="363.76" y="-4" font-size="34.5">(</tspan><tspan x="381.76" y="0" font-size="32.3">m</tspan><tspan x="398.12" y="-3" font-size="32.3">²</tspan><tspan x="420.59" y="-2.8" font-size="32.3">·</tspan><tspan x="445.88" y="0" font-size="32.3">s</tspan><tspan x="462.24" y="-4" font-size="34.5">)</tspan><tspan x="482" y="-4" font-size="34.5">)</tspan></text>
</g>
</svg>
</body></html>
